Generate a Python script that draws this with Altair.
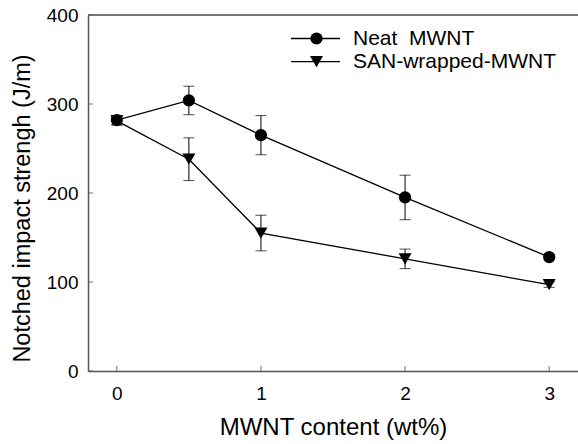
import altair as alt
import pandas as pd

# ---- data ----
content = [0, 0.5, 1, 2, 3]
neat_vals = [282, 304, 265, 195, 128]
neat_err = [5, 16, 22, 25, 3]
san_vals = [281, 238, 155, 126, 97]
san_err = [5, 24, 20, 11, 3]
series_names = ["Neat \u00a0MWNT", "SAN-wrapped-MWNT"]
x_ticks = [0, 1, 2, 3]
y_ticks = [0, 100, 200, 300, 400]
x_title = "MWNT content (wt%)"
y_title = "Notched impact strengh (J/m)"

rows = []
for name, vals, errs in [(series_names[0], neat_vals, neat_err), (series_names[1], san_vals, san_err)]:
    for xv, v, e in zip(content, vals, errs):
        rows.append({"x": xv, "y": v, "lo": v - e, "hi": v + e, "series": name})
df = pd.DataFrame(rows)

FONT = "Liberation Sans"
AX = "#555555"
W, H = 490, 356
SHAPES = ["circle", "triangle-down"]
SIZES = [150, 170]

xscale = alt.Scale(domain=[-0.2, 3.2], nice=False, zero=False)
yscale = alt.Scale(domain=[0, 400], nice=False)

xaxis = alt.Axis(values=x_ticks, format="d", ticks=False, tickSize=0, grid=False, labelPadding=13,
                 labelFontSize=19, titleFontSize=24, titlePadding=12, labelFont=FONT,
                 titleFont=FONT, domainColor=AX, labelColor="black", titleColor="black",
                 titleFontWeight="normal", domainWidth=1.5)
yaxis = alt.Axis(values=y_ticks, format="d", ticks=False, tickSize=0, grid=False, labelPadding=10,
                 labelFontSize=19, titleFontSize=23.5, titlePadding=12, titleLimit=600, titleY=193,
                 labelFont=FONT, titleFont=FONT, domainColor=AX, labelColor="black", titleColor="black",
                 titleFontWeight="normal", domainWidth=1.5)


def X(field):
    return alt.X(field, scale=xscale, axis=xaxis, title=x_title)


def Y(field):
    return alt.Y(field, scale=yscale, axis=yaxis, title=y_title)


base = alt.Chart(df)

lines = base.mark_line(color="black", strokeWidth=1.3).encode(
    x=X("x:Q"), y=Y("y:Q"), detail="series:N",
)
bars = base.mark_rule(color="black", strokeWidth=1).encode(x=X("x:Q"), y=Y("lo:Q"), y2="hi:Q")
cap_lo = base.mark_tick(color="black", orient="horizontal", size=11, thickness=1).encode(x=X("x:Q"), y=Y("lo:Q"))
cap_hi = base.mark_tick(color="black", orient="horizontal", size=11, thickness=1).encode(x=X("x:Q"), y=Y("hi:Q"))

points = base.mark_point(filled=True, color="black", opacity=1).encode(
    x=X("x:Q"), y=Y("y:Q"),
    shape=alt.Shape("series:N", scale=alt.Scale(domain=series_names, range=SHAPES), legend=None),
    size=alt.Size("series:N", scale=alt.Scale(domain=series_names, range=SIZES), legend=None),
)

# inward axis ticks
xt = alt.Chart(pd.DataFrame({"t": x_ticks})).mark_tick(color=AX, orient="vertical", size=5, thickness=1.2).encode(
    x=X("t:Q"), y=alt.value(H - 2.5)
)
yt = alt.Chart(pd.DataFrame({"t": y_ticks})).mark_tick(color=AX, orient="horizontal", size=5, thickness=1.2).encode(
    y=Y("t:Q"), x=alt.value(2.5)
)
# top frame line
top = alt.Chart(pd.DataFrame({"t": [400]})).mark_rule(color=AX, strokeWidth=1.5).encode(
    y=Y("t:Q"), x=alt.value(0), x2=alt.value(W)
)

# manual legend (one layer group per entry)
legend_layers = []
for name, shape, size, ly in zip(series_names, SHAPES, SIZES, [23.5, 46.7]):
    ld = pd.DataFrame({"series": [name]})
    legend_layers.append(alt.Chart(ld).mark_rule(color="black", strokeWidth=1.3).encode(
        x=alt.value(203), x2=alt.value(252), y=alt.value(ly)))
    legend_layers.append(alt.Chart(ld).mark_point(filled=True, color="black", opacity=1, shape=shape, size=size).encode(
        x=alt.value(228.5), y=alt.value(ly)))
    legend_layers.append(alt.Chart(ld).mark_text(align="left", baseline="middle", font=FONT, fontSize=21, color="black").encode(
        x=alt.value(265), y=alt.value(ly), text="series:N"))

chart = alt.layer(top, bars, cap_lo, cap_hi, lines, points, xt, yt, *legend_layers).properties(
    width=W, height=H,
    autosize=alt.AutoSizeParams(type="none"),
    padding={"left": 88, "top": 15, "right": 0, "bottom": 73},
).configure_view(stroke=None).configure(background="white")

chart.save("out.html", embed_options={"renderer": "svg", "actions": False})
